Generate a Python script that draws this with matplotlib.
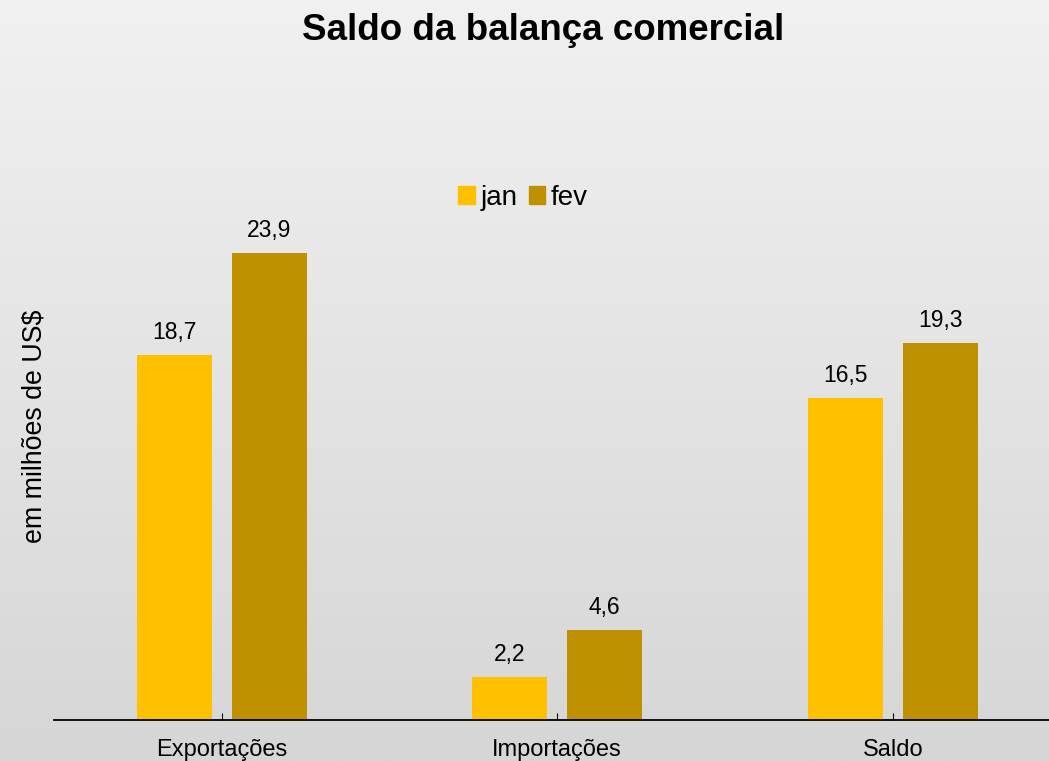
import matplotlib
matplotlib.use("Agg")
import matplotlib.pyplot as plt
import numpy as np
from matplotlib.patches import Patch
from matplotlib.colors import LinearSegmentedColormap

categories = ["Exportações", "Importações", "Saldo"]
jan = [18.7, 2.2, 16.5]
fev = [23.9, 4.6, 19.3]
jan_labels = ["18,7", "2,2", "16,5"]
fev_labels = ["23,9", "4,6", "19,3"]

plt.rcParams['font.family'] = ['Liberation Sans', 'DejaVu Sans']

W, H = 1049, 761
fig = plt.figure(figsize=(W/100, H/100), dpi=100)

# background gradient
bg = fig.add_axes([0, 0, 1, 1], zorder=-10)
grad = np.linspace(0, 1, 256).reshape(-1, 1)
cmap = LinearSegmentedColormap.from_list("g", ["#f1f1f1", "#d6d6d6"])
bg.imshow(grad, aspect='auto', cmap=cmap, extent=[0, 1, 0, 1], origin='upper')
bg.set_axis_off()

left = 54 / W
bottom = 1 - 720 / H
top = 1 - 133.8 / H
ax = fig.add_axes([left, bottom, 1 - left, top - bottom])
ax.patch.set_alpha(0)

x = np.arange(len(categories))
bw = 0.2235
off = 0.1416
c_jan = "#ffc000"
c_fev = "#bf9000"
ax.bar(x - off, jan, bw, color=c_jan)
ax.bar(x + off, fev, bw, color=c_fev)

for xi, v, lab in zip(x - off, jan, jan_labels):
    ax.text(xi, v + 0.82, lab, ha='center', va='baseline', fontsize=16.5)
for xi, v, lab in zip(x + off, fev, fev_labels):
    ax.text(xi, v + 0.82, lab, ha='center', va='baseline', fontsize=16.5)

ax.set_xlim(-0.5, -0.5 + 995 / 335.5)
ax.set_ylim(0, 30)
for s in ['top', 'right', 'left']:
    ax.spines[s].set_visible(False)
ax.spines['bottom'].set_linewidth(1.3)
ax.set_yticks([])
ax.set_xticks(x)
ax.set_xticklabels(categories, fontsize=17)
ax.tick_params(axis='x', direction='in', length=5, pad=13.5)

fig.text(35 / W, 1 - 426 / H, "em milhões de US$", rotation=90, ha='center', va='center', fontsize=19.3)
fig.text(543 / W, 1 - 31 / H, "Saldo da balança comercial", ha='center', va='center', fontsize=26.5, fontweight='bold')

handles = [Patch(color=c_jan, label='jan'), Patch(color=c_fev, label='fev')]
fig.legend(handles=handles, loc='center', bbox_to_anchor=(523 / W, 1 - 198 / H), ncol=2, frameon=False,
           fontsize=20, handlelength=0.6, handleheight=0.6, handletextpad=0.2, columnspacing=0.4)

fig.savefig("out.png", dpi=100)
